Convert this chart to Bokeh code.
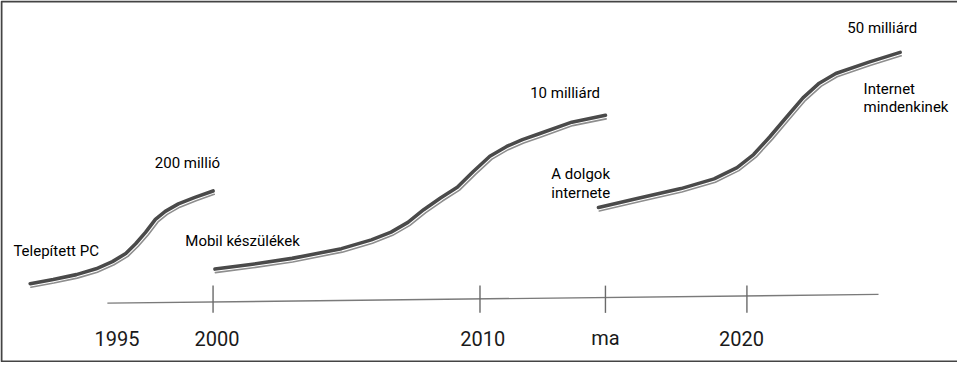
import numpy as np
from bokeh.plotting import figure
from bokeh.models import Range1d
from bokeh.embed import file_html
from bokeh.resources import INLINE
from bokeh.core.properties import value

# ---------------- data ----------------
# x: position on the time line (years), y: adoption level (arbitrary units)
pc_year = [1993.15, 1994.01, 1994.88, 1995.62, 1996.23, 1996.73, 1997.10, 1997.47, 1997.84, 1998.21, 1998.70, 1999.32, 2000.00]
pc_level = [81, 85.3, 90.3, 96.3, 103.7, 112, 122, 133.7, 147, 155.3, 163, 169.7, 176.3]

mobile_year = [2000.07, 2001.48, 2002.96, 2004.81, 2005.93, 2006.67, 2007.30, 2007.89, 2008.52, 2009.15,
               2009.74, 2010.37, 2011.00, 2011.59, 2012.22, 2013.44, 2014.70]
mobile_level = [96, 101, 107, 117, 126, 134, 144, 157, 169, 180, 196, 212, 222, 229, 235, 247, 254]

iot_year = [2014.44, 2015.93, 2017.53, 2018.77, 2019.63, 2020.25, 2020.86, 2021.48, 2022.10, 2022.71,
            2023.33, 2024.57, 2025.74]
iot_level = [159.3, 168.7, 178.7, 188.7, 200.3, 213.7, 232, 252, 272, 287, 297, 308.7, 318.7]

timeline_year = [1996.04, 2024.93]
timeline_level = [61, 70]
tick_years = [2000.0, 2010.0, 2014.7, 2020.0]
tick_low, tick_high = 51, 79
tick_labels = ["1995", "2000", "2010", "ma", "2020"]
tick_label_years = [1996.4, 2000.15, 2010.1, 2014.7, 2019.8]
tick_label_level = 25

label_texts = ["Telepített PC", "Mobil készülékek", "A dolgok", "internete", "Internet", "mindenkinek"]
label_years = [1992.52, 1998.96, 2012.67, 2012.67, 2024.37, 2024.37]
label_levels = [115, 125, 194, 174, 281, 263]

count_texts = ["200 millió", "10 milliárd", "50 milliárd"]
count_years = [1999.04, 2013.19, 2025.07]
count_levels = [205, 277, 344]

# ---------------- figure ----------------
W, H = 957, 362
x0, x1 = 1992.037, 2027.889
y0, y1 = 0.0, 372.0
sx = W / (x1 - x0)
sy = H / (y1 - y0)

p = figure(width=W, height=H, output_backend="svg", toolbar_location=None,
           x_range=Range1d(x0, x1), y_range=Range1d(y0, y1), min_border=0,
           background_fill_color="white", border_fill_color="white")
p.outline_line_color = None
p.xaxis.visible = False
p.yaxis.visible = False
p.grid.visible = False

# frame (left, top, bottom; the right side is cut off in the original)
fx = x0 + 1.0 / sx
ft = y1 - 1.0 / sy
fb = y0 + 1.0 / sy
p.line([x1, fx, fx, x1], [ft, ft, fb, fb], line_color="#444444", line_width=2)


def offset_curve(xs, ys, d):
    X = np.asarray(xs, float) * sx
    Y = np.asarray(ys, float) * sy
    tx = np.gradient(X)
    ty = np.gradient(Y)
    n = np.hypot(tx, ty)
    nx, ny = ty / n, -tx / n
    return list((X + d * nx) / sx), list((Y + d * ny) / sy)


for xs, ys in [(pc_year, pc_level), (mobile_year, mobile_level), (iot_year, iot_level)]:
    ox, oy = offset_curve(xs, ys, 3.6)
    p.line(ox, oy, line_color="#8e8e8e", line_width=1.6, line_join="round", line_cap="round")
    p.line(xs, ys, line_color="#4a4a4a", line_width=3.6, line_join="round", line_cap="round")

# time line
p.line(timeline_year, timeline_level, line_color="#7a7a7a", line_width=1.4)
p.segment(x0=tick_years, y0=[tick_low] * len(tick_years), x1=tick_years, y1=[tick_high] * len(tick_years),
          line_color="#6a6a6a", line_width=1.4)

p.text(x=tick_label_years, y=[tick_label_level] * len(tick_labels), text=tick_labels,
       text_font=value("Roboto"), text_font_size=value("20px"), text_color="#1a1a1a",
       text_align="center", text_baseline="middle")

p.text(x=label_years, y=label_levels, text=label_texts,
       text_font=value("Roboto"), text_font_size=value("15px"), text_color="#000000",
       text_align="left", text_baseline="middle")

p.text(x=count_years, y=count_levels, text=count_texts,
       text_font=value("Roboto"), text_font_size=value("15px"), text_color="#000000",
       text_align="center", text_baseline="middle")

open("out.html", "w").write(file_html(p, INLINE))
